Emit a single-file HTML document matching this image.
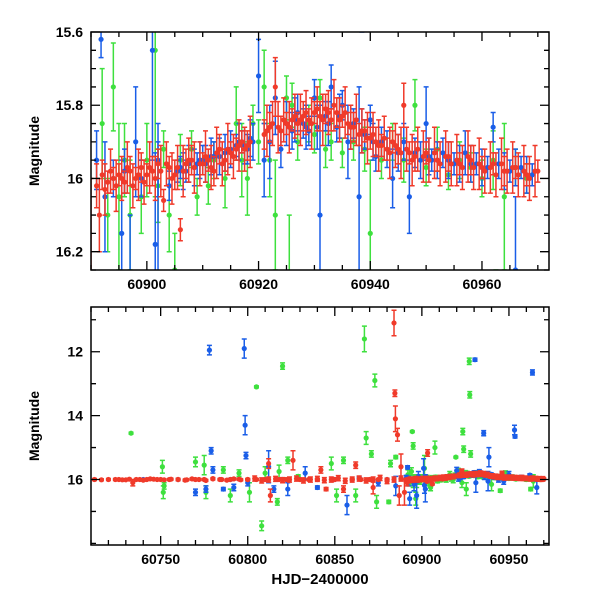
<!DOCTYPE html>
<html><head><meta charset="utf-8"><style>
html,body{margin:0;padding:0;background:#fff;width:600px;height:600px;overflow:hidden;}
svg{display:block;}
svg text{font-family:"Liberation Sans",sans-serif;fill:#000;}
</style></head><body>
<svg id="chart" width="600" height="600" viewBox="0 0 600 600" xmlns="http://www.w3.org/2000/svg">
<defs>
<clipPath id="clipTop"><rect x="91" y="32" width="458" height="238"/></clipPath>
<clipPath id="clipBot"><rect x="91" y="307" width="458" height="238"/></clipPath>
</defs>
<g id="topMarks" clip-path="url(#clipTop)"></g>
<g id="botMarks" clip-path="url(#clipBot)"></g>
<g id="axes"></g>
</svg>
<script>
// ---- data (HJD-2400000, magnitude, error) ----
const redT=[60891,60891.5,60892,60893,60894,60895,60896,60897,60898,60899,60900,60901,60902,60903,60904,60905,60906,60907,60908,60910,60911,60912,60913,60914,60915,60916,60917,60918,60921,60922,60923,60924,60925,60926,60927,60928,60929,60930,60931,60932,60933,60934,60935,60936,60937,60938,60939,60940,60941,60942,60943,60944,60945,60946,60947,60948,60950,60952,60954,60956,60958,60960,60962,60964,60966,60968,60970,
60712,60716,60720,60726,60730,60734,60738,60742,60746,60750,60755,60760,60765,60770,60775,60780,60785,60790,60795,60800,60805,60810,60812,60813,60818,60822,60826,60830,60835,60840,60842,60845,60850,60855,60860,60862,60865,60870,60872,60875,60880,60884,60884.5,60884.8,60886,60887,60888,60890,60903.3];
const redM=[16.02,16.10,15.99,16.01,16.00,15.99,16.01,15.98,16.0,15.97,15.99,15.98,15.96,16.06,15.97,15.99,16.14,15.96,15.95,15.96,15.95,15.98,15.92,15.95,15.93,15.92,15.90,15.91,15.88,15.86,15.75,15.87,15.85,15.84,15.85,15.83,15.84,15.82,15.83,15.81,15.84,15.82,15.83,15.85,15.86,15.88,15.87,15.89,15.90,15.91,15.92,15.90,15.92,15.80,15.93,15.94,15.93,15.95,15.94,15.96,15.95,15.97,15.96,15.98,15.97,15.99,15.98,
16.0,16.01,16.0,16.0,16.01,16.1,16.0,16.0,15.99,16.0,16.0,16.0,16.01,16.0,16.0,15.98,16.0,16.0,15.99,16.0,16.0,16.0,15.5,16.5,16.0,16.0,15.4,16.0,16.0,16.0,15.7,16.3,16.0,16.3,16.0,15.55,16.0,16.0,16.25,16.0,16.0,11.1,13.3,14.1,14.6,16.5,15.6,16.4,15.17];
const redE=[.06,.10,.04,.03,.03,.03,.03,.04,.03,.04,.03,.04,.04,.03,.03,.04,.03,.04,.04,.03,.03,.04,.04,.03,.03,.03,.03,.04,.04,.04,.08,.04,.03,.03,.03,.04,.03,.03,.04,.04,.03,.04,.03,.03,.04,.03,.03,.03,.04,.03,.03,.03,.04,.06,.03,.04,.03,.03,.04,.03,.04,.03,.03,.04,.03,.03,.03,
.03,.03,.03,.03,.03,.1,.03,.03,.03,.03,.03,.03,.03,.03,.03,.03,.03,.03,.03,.03,.03,.03,.15,.2,.03,.03,.3,.03,.03,.03,.1,.05,.03,.1,.03,.1,.03,.03,.2,.03,.03,.4,.1,.4,.2,.3,.4,.4,.1];
const redBandT=[60892.5,60893.5,60894.5,60895.5,60896.5,60897.5,60898.5,60899.5,60900.5,60901.5,60902.5,60903.5,60904.5,60905.5,60906.5,60907.5,60908.5,60909.5,60910.5,60911.5,60912.5,60913.5,60914.5,60915.5,60916.5,60917.5,60918.5,60921.5,60922.5,60923.5,60924.5,60925.5,60926.5,60927.5,60928.5,60929.5,60930.5,60931.5,60932.5,60933.5,60934.5,60935.5,60936.5,60937.5,60938.5,60939.5,60940.5,60941.5,60942.5,60943.5,60944.5,60945.5,60946.5,60947.5,60948.5,60949.5,60950.5,60951.5,60952.5,60953.5,60954.5,60955.5,60956.5,60957.5,60958.5,60959.5,60960.5,60961.5,60962.5,60963.5,60964.5,60965.5,60966.5,60967.5,60968.5,60969.5,
60724,60728,60732,60736,60740,60744,60748,60752,60756,60760,60764,60768,60772,60776,60780,60784,60788,60792,60796,60800,60804,60808,60812,60816,60820,60824,60828,60832,60836,60840,60844,60848,60852,60856,60860,60864,60868,60872,60876,60880,60884,60888];
const redBandM=[16.03,15.98,16.02,16.0,15.97,16.02,15.99,16.01,15.97,16.0,15.98,15.96,16.0,15.97,15.98,15.95,15.97,15.96,15.94,15.97,15.93,15.96,15.92,15.94,15.91,15.92,15.90,15.87,15.85,15.86,15.84,15.86,15.83,15.84,15.82,15.85,15.81,15.84,15.82,15.80,15.84,15.82,15.86,15.84,15.87,15.89,15.88,15.91,15.89,15.93,15.91,15.93,15.92,15.95,15.92,15.94,15.95,15.93,15.96,15.94,15.96,15.95,15.97,15.94,15.97,15.96,15.98,15.97,15.99,15.96,15.98,15.97,15.99,15.98,16.0,15.98,
16.0,16.01,15.99,16.0,16.02,15.98,16.0,16.01,15.99,16.0,16.02,15.98,16.0,16.03,15.97,16.0,16.02,15.98,16.01,16.0,15.97,16.03,16.0,15.98,16.02,16.0,15.97,16.03,16.0,15.98,16.02,16.0,15.96,16.04,16.0,15.97,16.03,16.0,15.95,16.05,16.0,15.97];
const redBandE=[.07,.06,.07,.06,.07,.06,.07,.06,.07,.06,.07,.06,.07,.06,.07,.06,.07,.06,.07,.06,.07,.06,.07,.06,.07,.06,.07,.07,.06,.07,.06,.07,.06,.07,.06,.07,.06,.07,.06,.07,.06,.07,.06,.07,.06,.07,.06,.07,.06,.07,.06,.07,.06,.07,.06,.07,.06,.07,.06,.07,.06,.07,.06,.07,.06,.07,.06,.07,.06,.07,.06,.07,.06,.07,.06,.07,
.03,.03,.03,.03,.03,.03,.03,.03,.03,.03,.03,.03,.03,.03,.03,.03,.03,.03,.03,.03,.08,.08,.08,.08,.08,.08,.08,.08,.08,.08,.08,.08,.08,.08,.08,.08,.08,.08,.08,.08,.08,.08];
const blueT=[60891,60891.8,60892.5,60894,60895.5,60896,60898,60899,60901,60901.5,60902,60904,60905.5,60906,60907,60909,60910,60912,60914,60916,60917,60918,60920,60921,60922,60923,60924,60926,60927,60928,60929,60930,60931,60932,60933,60934,60935,60936,60937,60938,60939,60940,60941,60942,60944,60946,60947,60948,60949,60950,60951,60953,60955,60957,60959,60961,60962,60963,60965,60967,60969,
60770,60776,60778,60779,60780,60786,60792,60798,60798.5,60799,60800,60812,60815,60823,60833,60840,60857,60864,60875,60885,60893,60897,60902,60930.5,60935.5,60938.5,60953.2,60953.5,60963.5,60966,60740,60760,60790,60820,60850,60880];
const blueM=[15.95,15.62,16.05,16.0,16.15,15.98,15.9,16.0,15.65,16.18,15.95,16.02,15.98,15.97,15.98,15.96,15.95,15.94,15.93,15.91,15.90,15.92,15.72,15.95,15.9,15.78,15.92,15.87,15.82,15.85,15.87,15.78,16.1,15.83,15.75,15.86,15.80,15.9,15.85,16.05,15.88,15.84,15.94,15.9,16.0,15.9,16.05,15.93,15.95,15.85,15.95,15.93,15.96,15.93,15.96,15.97,15.86,15.96,15.98,15.97,15.99,
16.4,16.3,11.95,15.1,15.7,16.3,16.25,11.9,14.3,15.25,16.1,15.6,16.3,16.3,15.8,16.25,16.8,15.95,16.1,16.2,16.6,16.5,16.3,12.25,14.55,15.3,14.45,14.65,12.65,16.25,16.0,16.0,16.0,16.0,16.0,16.0];
const blueE=[.08,.05,.15,.05,.2,.06,.15,.05,.3,.25,.1,.04,.03,.03,.03,.03,.04,.04,.05,.03,.03,.04,.1,.1,.1,.1,.05,.05,.05,.04,.04,.05,.3,.04,.06,.04,.04,.1,.04,.3,.04,.04,.04,.04,.08,.05,.1,.04,.05,.1,.03,.04,.03,.06,.03,.03,.04,.04,.03,.03,.03,
.1,.1,.15,.1,.1,.05,.1,.3,.3,.1,.1,.5,.1,.2,.2,.05,.3,.05,.1,.3,.2,.4,.4,.05,.08,.3,.15,.05,.08,.2,.03,.03,.03,.03,.04,.04];
const blueBandT=[60906.5,60907.5,60908.5,60909.5,60910.5,60911.5,60913,60915,60916.5,60917.5,60918.5,60919,60925,60926.5,60928.5,60930.5,60932.5,60934.5,60936.5,60938.5,60940.5,60943,60945,60950.5,60952,60954,60956,60958,60960,60964,60966,60968];
const blueBandM=[15.98,15.96,15.97,15.95,15.96,15.94,15.94,15.92,15.90,15.91,15.89,15.90,15.85,15.84,15.86,15.86,15.85,15.83,15.86,15.87,15.90,15.92,15.93,15.94,15.95,15.95,15.96,15.96,15.97,15.98,15.97,15.99];
const blueBandE=[.05,.05,.05,.05,.05,.05,.05,.05,.05,.05,.05,.05,.06,.06,.06,.06,.06,.06,.06,.06,.05,.05,.05,.05,.05,.05,.05,.05,.05,.05,.05,.05];
const greenT=[60892,60893,60894,60895,60896,60897,60899,60900,60901.5,60902,60903,60904,60905,60906,60908,60909,60911,60912,60914,60916,60917,60918,60919,60920,60921,60922,60923,60925,60926,60927,60929,60930,60931,60932,60933,60935,60937,60939,60940,60942,60944,60946,60948,60950,60952,60954,60956,60958,60960,60962,60964,60966,60968,
60733,60751,60751.5,60752,60770,60775,60776,60786,60790,60795,60801,60805,60808,60810,60817,60818,60820,60823,60829,60848,60851,60855,60862,60867,60868,60871,60873,60874,60881,60882,60885,60894.5,60895,60896.5,60907.5,60919.5,60923.5,60924,60925.5,60927.2,60927.5,60928,60945,60962.5];
const greenM=[15.85,16.1,15.75,16.05,15.95,16.1,16.05,15.95,15.65,16.02,15.92,16.1,16.25,15.95,15.92,16.05,16.02,15.95,16.0,15.85,15.95,16.0,15.85,15.90,15.75,15.95,16.1,15.78,15.8,15.9,15.85,15.88,15.78,15.92,15.9,15.93,15.9,15.92,16.15,15.95,15.9,15.95,15.8,15.97,15.92,15.99,15.95,15.97,16.0,15.95,16.05,15.97,16.0,
14.55,15.6,16.4,16.2,15.45,15.55,16.4,15.7,16.5,15.8,16.4,13.1,17.45,15.8,16.7,15.75,12.45,15.4,15.9,15.5,16.5,15.4,16.5,11.6,14.7,15.2,12.9,16.7,16.7,15.5,15.3,14.5,14.95,16.6,15.0,15.3,14.5,15.05,16.3,12.3,13.35,15.2,16.35,16.3];
const greenE=[.15,.1,.12,.2,.1,.15,.1,.1,.4,.1,.05,.1,.1,.07,.05,.05,.05,.05,.08,.1,.1,.1,.05,.06,.1,.1,.15,.06,.06,.05,.05,.05,.05,.05,.05,.04,.05,.06,.2,.05,.05,.06,.07,.05,.06,.04,.05,.04,.05,.08,.2,.05,.04,
.03,.2,.2,.1,.15,.3,.2,.1,.2,.1,.3,.03,.15,.2,.1,.2,.1,.1,.05,.2,.2,.1,.2,.4,.2,.1,.2,.2,.05,.1,.05,.03,.1,.2,.2,.03,.1,.1,.2,.1,.1,.1,.05,.05];
const topXTicks=[60900,60920,60940,60960];
const topYTicks=[15.6,15.8,16,16.2];
const botXTicks=[60750,60800,60850,60900,60950];
const botYTicks=[12,14,16];

// ---- panels ----
const NS="http://www.w3.org/2000/svg";
const pTop={x0:91,x1:549,y0:32,y1:270,tmin:60890,tmax:60972,mmin:15.6,mmax:16.25};
const pBot={x0:91,x1:549,y0:307,y1:545,tmin:60710,tmax:60973,mmin:10.6,mmax:18.05};
function sx(p,t){return p.x0+(t-p.tmin)/(p.tmax-p.tmin)*(p.x1-p.x0);}
function sy(p,m){return p.y0+(m-p.mmin)/(p.mmax-p.mmin)*(p.y1-p.y0);}
function mk(tag,attrs,parent){const e=document.createElementNS(NS,tag);for(const k in attrs)e.setAttribute(k,attrs[k]);parent.appendChild(e);return e;}

function drawSeries(p,g,T,M,E,color,name){
  for(let i=0;i<T.length;i++){
    const x=sx(p,T[i]),y=sy(p,M[i]),y1=sy(p,M[i]-E[i]),y2=sy(p,M[i]+E[i]);
    const bar=mk('path',{d:`M${x},${y1}V${y2}M${x-2.5},${y1}H${x+2.5}M${x-2.5},${y2}H${x+2.5}`,stroke:color,'stroke-width':1.5,fill:'none'},g);
    
    
    const c=mk('circle',{cx:x,cy:y,r:2.6,fill:color},g);
    
    
  }
}
const GREEN='#3ee03e',BLUE='#1a5ee8',RED='#f03a2a';
[[pTop,document.getElementById('topMarks')],[pBot,document.getElementById('botMarks')]].forEach(([p,g])=>{
  drawSeries(p,g,greenT,greenM,greenE,GREEN,'green-series');
  drawSeries(p,g,blueT,blueM,blueE,BLUE,'blue-series');
  drawSeries(p,g,blueBandT,blueBandM,blueBandE,BLUE,'blue-series');
  drawSeries(p,g,redT,redM,redE,RED,'red-series');
  drawSeries(p,g,redBandT,redBandM,redBandE,RED,'red-series');
});

// ---- axes ----
const ax=document.getElementById('axes');
function axes(p,xMinorStep,yMinorStep,xT,yT,yDec,prefix){
  const fr=mk('rect',{x:p.x0,y:p.y0,width:p.x1-p.x0,height:p.y1-p.y0,fill:'none',stroke:'#000','stroke-width':1.5},ax);
  
  
  let d='';
  const ts=Math.ceil(p.tmin/xMinorStep)*xMinorStep;
  for(let t=ts;t<=p.tmax;t+=xMinorStep){const x=sx(p,t);const L=xT.includes(t)?9:5;d+=`M${x},${p.y1}v${-L}M${x},${p.y0}v${L}`;}
  const ms=Math.ceil(p.mmin/yMinorStep-1e-6)*yMinorStep;
  for(let k=0;ms+k*yMinorStep<=p.mmax+1e-6;k++){const m=+(ms+k*yMinorStep).toFixed(3);const y=sy(p,m);const L=yT.some(v=>Math.abs(v-m)<1e-6)?9:5;d+=`M${p.x0},${y}h${L}M${p.x1},${y}h${-L}`;}
  const tk=mk('path',{d:d,stroke:'#000','stroke-width':1.3,fill:'none'},ax);
  
  
  xT.forEach(t=>{const e=mk('text',{x:sx(p,t),y:p.y1+19,'text-anchor':'middle','font-size':14,'font-weight':'bold'},ax);e.textContent=t;
    
    });
  yT.forEach(m=>{const e=mk('text',{x:p.x0-8,y:sy(p,m)+5,'text-anchor':'end','font-size':14,'font-weight':'bold'},ax);e.textContent=(yDec&&m!==16)?m.toFixed(yDec):String(m);
    
    });
  const yl=mk('text',{x:0,y:0,'text-anchor':'middle','font-size':14,'font-weight':'bold',transform:`translate(${p.x0-52},${(p.y0+p.y1)/2}) rotate(-90)`},ax);
  yl.textContent='Magnitude';
  
  
}
axes(pTop,5,0.05,topXTicks,topYTicks,1,'top');
axes(pBot,10,1,botXTicks,botYTicks,0,'bottom');
const xl=mk('text',{x:320,y:584,'text-anchor':'middle','font-size':15,'font-weight':'bold','font-family':'Liberation Mono, monospace'},ax);
xl.textContent='HJD\u22122400000';


</script>
</body></html>
